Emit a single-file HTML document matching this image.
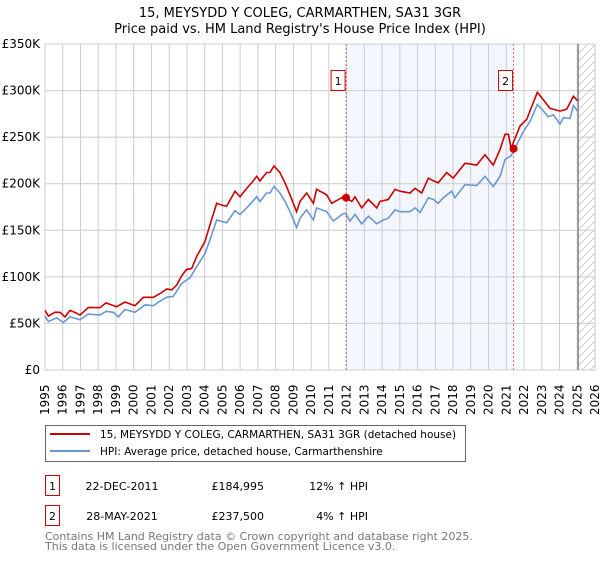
<!DOCTYPE html>
<html><head><meta charset="utf-8"><style>
body{margin:0;background:#fff;}
svg text{font-family:"DejaVu Sans","Liberation Sans",sans-serif;}
</style></head><body>
<svg id="chart" width="600" height="560" xmlns="http://www.w3.org/2000/svg">
<text x="300" y="17" text-anchor="middle" font-size="13">15, MEYSYDD Y COLEG, CARMARTHEN, SA31 3GR</text>
<text x="300" y="33" text-anchor="middle" font-size="13">Price paid vs. HM Land Registry's House Price Index (HPI)</text>
<g id="plot"></g>
<g>
<rect x="45.5" y="425.5" width="420" height="36" fill="#fff" stroke="#666"/>
<line x1="50" y1="434" x2="90" y2="434" stroke="#cc0000" stroke-width="2"/>
<text x="100" y="438" font-size="10.5">15, MEYSYDD Y COLEG, CARMARTHEN, SA31 3GR (detached house)</text>
<line x1="50" y1="451" x2="90" y2="451" stroke="#6a96d6" stroke-width="2"/>
<text x="100" y="455" font-size="10.5">HPI: Average price, detached house, Carmarthenshire</text>
</g>
<g font-size="11">
<rect x="45.5" y="475.5" width="14" height="20" fill="#fff" stroke="#cc0000"/>
<text x="52.5" y="490" text-anchor="middle">1</text>
<text x="122" y="490" text-anchor="middle">22-DEC-2011</text>
<text x="264" y="490" text-anchor="end">£184,995</text>
<text x="368" y="490" text-anchor="end">12% ↑ HPI</text>
</g>
<g font-size="11">
<rect x="45.5" y="505.5" width="14" height="20" fill="#fff" stroke="#cc0000"/>
<text x="52.5" y="520" text-anchor="middle">2</text>
<text x="122" y="520" text-anchor="middle">28-MAY-2021</text>
<text x="264" y="520" text-anchor="end">£237,500</text>
<text x="368" y="520" text-anchor="end">4% ↑ HPI</text>
</g>
<text x="45" y="540" font-size="11" fill="#777">Contains HM Land Registry data © Crown copyright and database right 2025.</text>
<text x="45" y="550" font-size="11" fill="#777">This data is licensed under the Open Government Licence v3.0.</text>
</svg>
<script>
const hpiYears=[1995.00,1995.19,1995.66,1996.03,1996.41,1996.97,1997.44,1998.10,1998.44,1998.85,1999.13,1999.51,2000.07,2000.64,2001.11,2001.48,2001.86,2002.23,2002.70,2003.17,2003.55,2004.02,2004.30,2004.68,2005.24,2005.71,2005.99,2006.37,2006.93,2007.12,2007.49,2007.68,2007.91,2008.24,2008.53,2008.81,2009.18,2009.37,2009.75,2010.13,2010.31,2010.88,2011.25,2011.82,2011.95,2012.19,2012.47,2012.85,2013.23,2013.70,2014.07,2014.35,2014.73,2015.01,2015.57,2015.86,2016.14,2016.61,2016.89,2017.17,2017.45,2017.92,2018.11,2018.67,2019.33,2019.80,2020.27,2020.65,2020.93,2021.27,2021.59,2021.96,2022.34,2022.75,2023.00,2023.37,2023.65,2024.03,2024.22,2024.59,2024.78,2025.02];
const hpiValues=[58,52,56,51,57,54,60,59,63,62,57,65,62,70,69,74,78,79,93,99,111,125,140,161,158,171,167,174,186,181,190,190,197,190,181,170,153,163,172,161,174,170,160,168,168,160,167,157,165,157,161,163,172,170,170,174,169,185,183,179,185,192,185,199,198,208,197,208,226,230,242,256,267,285,280,272,274,264,271,270,284,278];
const ppdYears=[1995.00,1995.19,1995.56,1995.85,1996.13,1996.41,1996.78,1996.97,1997.44,1998.10,1998.44,1999.04,1999.51,2000.07,2000.54,2001.11,2001.48,2001.86,2002.14,2002.42,2002.70,2002.98,2003.27,2003.55,2004.02,2004.30,2004.68,2004.96,2005.24,2005.71,2005.99,2006.37,2006.74,2006.93,2007.12,2007.49,2007.68,2007.91,2008.24,2008.53,2008.81,2009.18,2009.37,2009.75,2010.13,2010.31,2010.88,2011.16,2011.82,2011.95,2012.29,2012.47,2012.85,2013.23,2013.70,2013.88,2014.35,2014.73,2015.01,2015.57,2015.86,2016.23,2016.61,2016.89,2017.17,2017.64,2018.01,2018.67,2019.33,2019.80,2020.27,2020.65,2020.93,2021.12,2021.27,2021.77,2022.15,2022.75,2023.09,2023.46,2024.03,2024.40,2024.78,2025.02];
const ppdValues=[64,58,62,62,57,64,61,59,67,67,72,68,73,69,78,78,82,87,86,91,101,108,109,122,138,156,179,177,176,192,186,195,203,208,203,212,212,219,212,201,188,170,181,190,179,194,188,179,186,185,181,186,174,183,174,181,183,194,192,190,195,190,206,203,201,212,206,222,220,231,220,237,253,253,238,262,269,298,290,281,278,280,294,289];
const saleYears=[2011.97,2021.41];
const saleValues=[184995,237500];
const saleLabels=["1","2"];
const yTicks=[0,50000,100000,150000,200000,250000,300000,350000];
const yTickLabels=["£0","£50K","£100K","£150K","£200K","£250K","£300K","£350K"];
const xTicks=[1995,1996,1997,1998,1999,2000,2001,2002,2003,2004,2005,2006,2007,2008,2009,2010,2011,2012,2013,2014,2015,2016,2017,2018,2019,2020,2021,2022,2023,2024,2025,2026];
const X0=45,X1=595,Y0=370,Y1=44;
const xS=y=>X0+(y-1995)/(2026-1995)*(X1-X0);
const yS=v=>Y0-v/350000*(Y0-Y1);
const NS="http://www.w3.org/2000/svg";
const plot=document.getElementById('plot');
function mk(tag,attrs,parent){const e=document.createElementNS(NS,tag);for(const k in attrs)e.setAttribute(k,attrs[k]);(parent||plot).appendChild(e);return e;}
let sh=mk('rect',{x:xS(saleYears[0]),y:Y1,width:xS(saleYears[1])-xS(saleYears[0]),height:Y0-Y1,fill:'#eef3fc',opacity:0.7});


const defs=mk('defs',{});
const pat=mk('pattern',{id:'hatch',width:8,height:8,patternUnits:'userSpaceOnUse'},defs);
mk('path',{d:'M0,8 L8,0',stroke:'#ccc','stroke-width':1},pat);
let hr=mk('rect',{x:xS(2025),y:Y1,width:xS(2026)-xS(2025),height:Y0-Y1,fill:'url(#hatch)'});


xTicks.forEach(t=>{const l=mk('line',{x1:xS(t),x2:xS(t),y1:Y1,y2:Y0,stroke:'#ccc','stroke-width':1});


const tx=mk('text',{transform:`translate(${xS(t)+4},${Y0+45}) rotate(-90)`,'font-size':12});tx.textContent=t;

});
yTicks.forEach((t,i)=>{const l=mk('line',{x1:X0,x2:X1,y1:yS(t),y2:yS(t),stroke:'#ccc','stroke-width':1});


const tx=mk('text',{x:X0-5,y:yS(t)+4,'text-anchor':'end','font-size':12});tx.textContent=yTickLabels[i];

});
let nl=mk('line',{x1:xS(2025.05),x2:xS(2025.05),y1:Y1,y2:Y0,stroke:'#888','stroke-width':1.5});


saleYears.forEach((y,i)=>{const l=mk('line',{x1:xS(y),x2:xS(y),y1:Y1,y2:Y0,stroke:'#e06666','stroke-width':1,'stroke-dasharray':'2,2'});


const g=mk('g',{});


mk('rect',{x:xS(y)-15,y:70.5,width:14,height:20,fill:'#fff',stroke:'#cc0000'},g);
const t=mk('text',{x:xS(y)-8,y:85,'text-anchor':'middle','font-size':11},g);t.textContent=saleLabels[i];});
const pts=(xs,vs)=>xs.map((x,i)=>xS(x).toFixed(1)+','+yS(vs[i]*1000).toFixed(1)).join(' ');
let hl=mk('polyline',{points:pts(hpiYears,hpiValues),fill:'none',stroke:'#6a96d6','stroke-width':1.6});


let pl=mk('polyline',{points:pts(ppdYears,ppdValues),fill:'none',stroke:'#cc0000','stroke-width':1.6});


saleYears.forEach((y,i)=>{const c=mk('circle',{cx:xS(y),cy:yS(saleValues[i]),r:4,fill:'#cc0000'});

});
</script>
</body></html>
